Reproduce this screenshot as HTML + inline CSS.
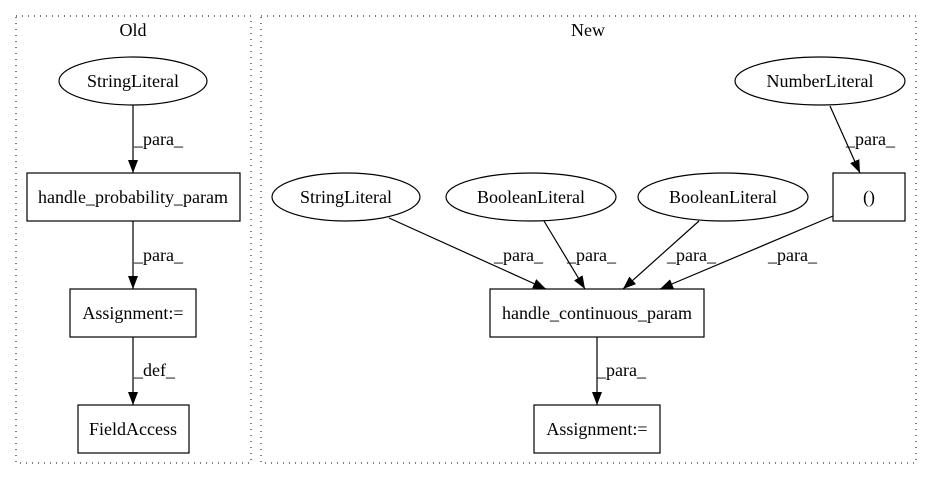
<!DOCTYPE html>
<html><head><style>body{margin:0;background:#fff}svg{display:block}</style></head><body>
<svg width="932" height="480" viewBox="0 0 932 480" xmlns="http://www.w3.org/2000/svg" font-family="Liberation Serif, serif" font-size="18px">
<defs><marker id="a" markerWidth="13" markerHeight="10" refX="13" refY="5" orient="auto" markerUnits="userSpaceOnUse"><path d="M0,0 L13,5 L0,10 z" fill="#000"/></marker></defs>
<rect x="16" y="16" width="235" height="447" fill="none" stroke="#000" stroke-dasharray="1,5"/>
<rect x="261" y="16" width="655" height="447" fill="none" stroke="#000" stroke-dasharray="1,5"/>
<g fill="none" stroke="#000" stroke-width="1.2">
<ellipse cx="133" cy="81" rx="74" ry="24"/>
<rect x="27" y="173" width="213" height="48"/>
<rect x="70" y="289" width="126" height="48"/>
<rect x="78" y="405" width="111" height="48"/>
<ellipse cx="346" cy="197" rx="74" ry="24"/>
<ellipse cx="531" cy="197" rx="85" ry="24"/>
<ellipse cx="723" cy="197" rx="85" ry="24"/>
<ellipse cx="820" cy="81" rx="85" ry="24"/>
<rect x="833" y="173" width="72" height="48"/>
<rect x="490" y="289" width="214" height="48"/>
<rect x="534" y="405" width="126" height="48"/>
<g marker-end="url(#a)">
<line x1="133" y1="105" x2="133" y2="173"/>
<line x1="133" y1="221" x2="133" y2="289"/>
<line x1="133" y1="337" x2="133" y2="405"/>
<line x1="389" y1="218" x2="546" y2="289"/>
<line x1="544" y1="221" x2="585" y2="289"/>
<line x1="699" y1="221" x2="623" y2="289"/>
<line x1="833" y1="216" x2="660" y2="289"/>
<line x1="830" y1="106" x2="860" y2="173"/>
<line x1="597" y1="337" x2="597" y2="405"/>
</g>
</g>
<g fill="#000" text-anchor="middle">
<text x="133" y="36">Old</text>
<text x="588" y="36">New</text>
<text x="133" y="87">StringLiteral</text>
<text x="133" y="203">handle_probability_param</text>
<text x="133" y="319">Assignment:=</text>
<text x="133" y="435">FieldAccess</text>
<text x="346" y="203">StringLiteral</text>
<text x="531" y="203">BooleanLiteral</text>
<text x="723" y="203">BooleanLiteral</text>
<text x="820" y="87">NumberLiteral</text>
<text x="869" y="203">()</text>
<text x="597" y="319">handle_continuous_param</text>
<text x="597" y="435">Assignment:=</text>
</g>
<g fill="#000">
<text x="134" y="145">_para_</text>
<text x="134" y="261">_para_</text>
<text x="134" y="376">_def_</text>
<text x="494" y="261">_para_</text>
<text x="567" y="261">_para_</text>
<text x="667" y="261">_para_</text>
<text x="768" y="261">_para_</text>
<text x="846" y="145">_para_</text>
<text x="597" y="376">_para_</text>
</g>
</svg>
</body></html>
